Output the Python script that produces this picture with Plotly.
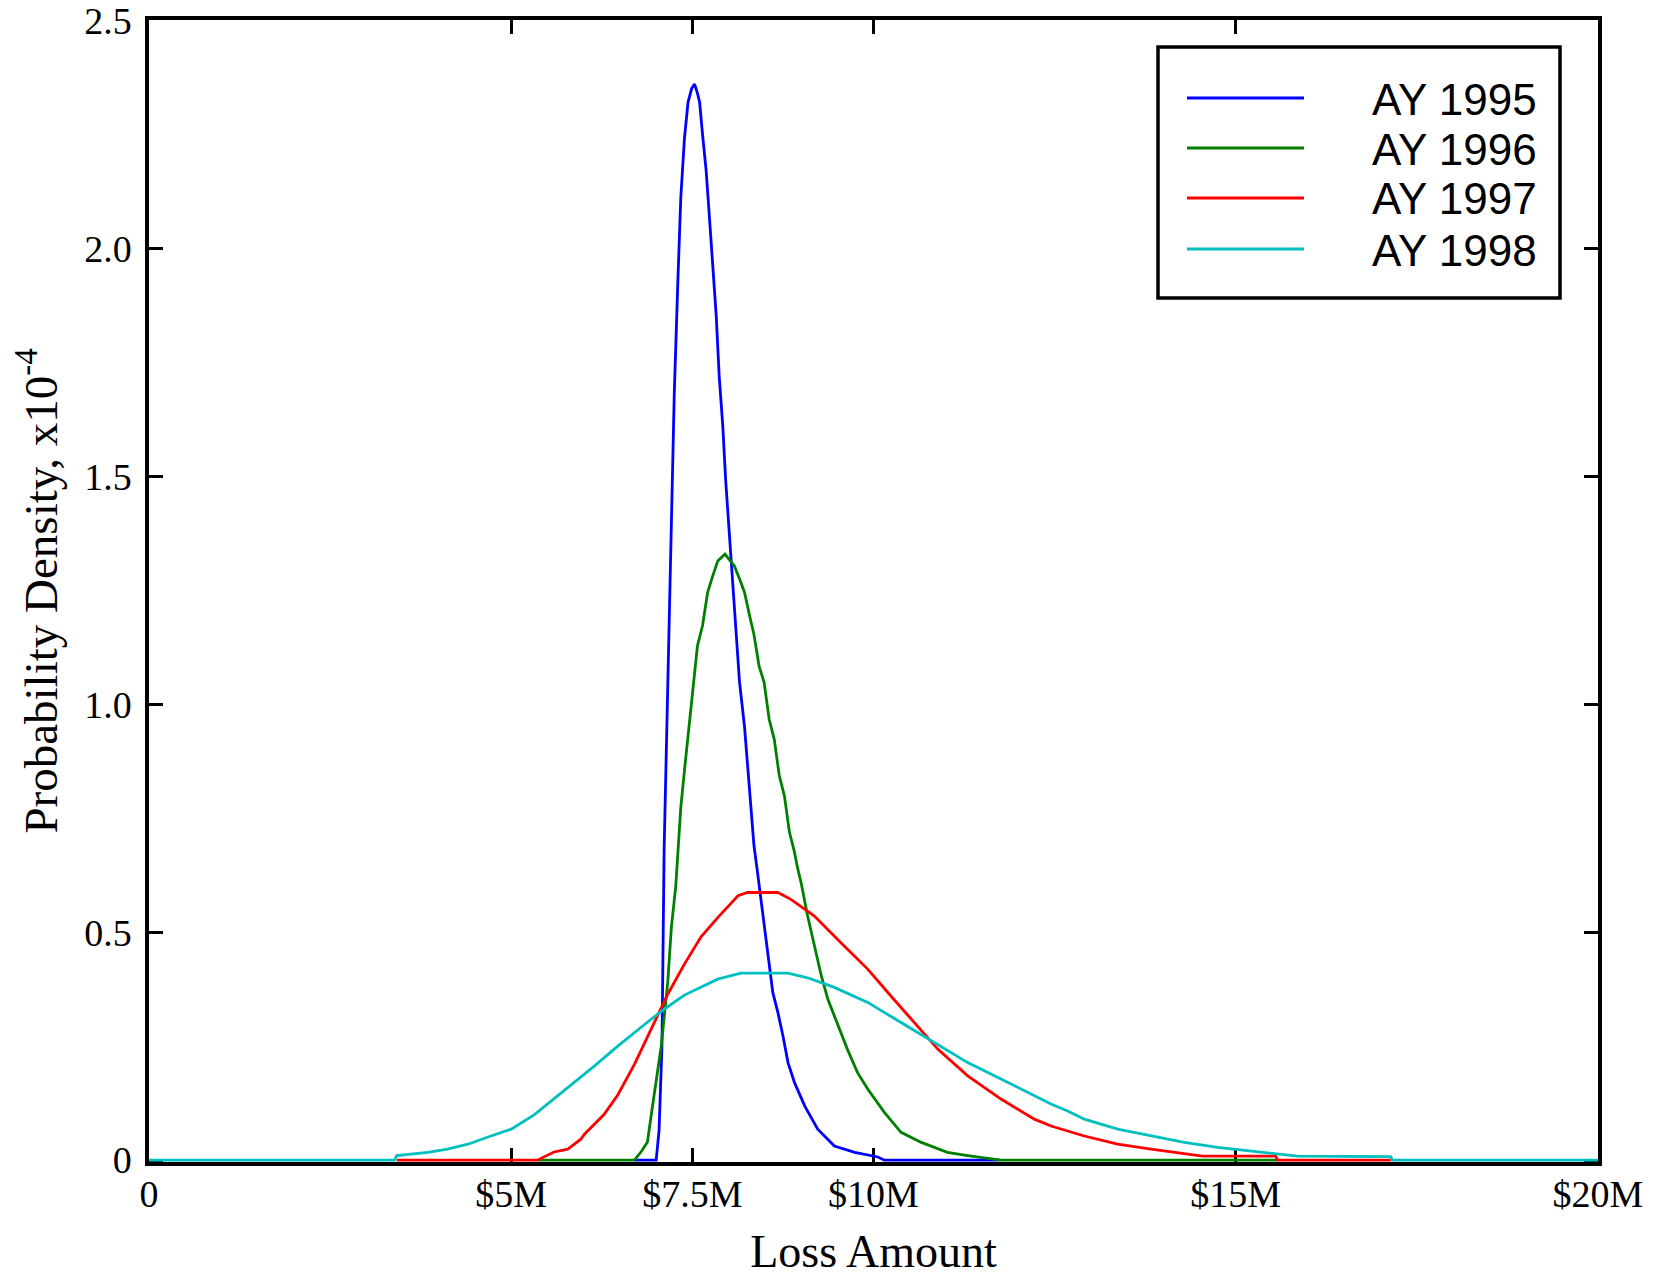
import plotly.graph_objects as go

# Loss amount in $ millions, probability density in units of 1e-4
names = ["AY 1995", "AY 1996", "AY 1997", "AY 1998"]
colors = ["#0000FF", "#008000", "#FF0000", "#00BFBF"]

x_1995 = [6.70, 7.00, 7.04, 7.08, 7.11, 7.16, 7.21, 7.25, 7.30, 7.34, 7.39, 7.44, 7.49, 7.53,
          7.57, 7.60, 7.64, 7.69, 7.73, 7.78, 7.83, 7.87, 7.92, 7.96, 8.01, 8.06, 8.10, 8.15,
          8.22, 8.26, 8.31, 8.35, 8.40, 8.49, 8.54, 8.61, 8.68, 8.75, 8.82, 8.91, 9.05, 9.23,
          9.46, 9.74, 10.06, 10.15, 11.73]
y_1995 = [0.0, 0.0, 0.065, 0.25, 0.68, 1.05, 1.38, 1.68, 1.93, 2.11, 2.24, 2.32, 2.35, 2.36,
          2.34, 2.32, 2.25, 2.17, 2.08, 1.965, 1.85, 1.72, 1.61, 1.49, 1.37, 1.26, 1.15, 1.05,
          0.95, 0.865, 0.78, 0.69, 0.63, 0.514, 0.455, 0.368, 0.324, 0.273, 0.214, 0.17, 0.119, 0.068,
          0.031, 0.017, 0.007, 0.0, 0.0]

x_1996 = [5.36, 6.70, 6.80, 6.88, 6.93, 7.00, 7.07, 7.16, 7.21, 7.27, 7.30, 7.34, 7.39, 7.44,
          7.48, 7.53, 7.57, 7.64, 7.71, 7.78, 7.85, 7.95, 8.08, 8.17, 8.22, 8.29, 8.35, 8.42,
          8.49, 8.56, 8.63, 8.70, 8.77, 8.84, 8.91, 8.95, 9.00, 9.09, 9.18, 9.28, 9.37, 9.51,
          9.64, 9.78, 9.92, 10.15, 10.38, 10.66, 11.02, 11.30, 11.76, 15.58]
y_1996 = [0.0, 0.0, 0.02, 0.04, 0.097, 0.17, 0.25, 0.39, 0.51, 0.60, 0.686, 0.773, 0.854, 0.927,
          1.0, 1.066, 1.128, 1.172, 1.245, 1.281, 1.314, 1.329, 1.303, 1.267, 1.245, 1.194, 1.153, 1.084,
          1.048, 0.967, 0.923, 0.843, 0.799, 0.719, 0.675, 0.642, 0.609, 0.536, 0.47, 0.404, 0.353, 0.294,
          0.243, 0.192, 0.156, 0.105, 0.061, 0.039, 0.017, 0.01, 0.0, 0.0]

x_1997 = [3.42, 5.36, 5.59, 5.78, 5.96, 6.01, 6.28, 6.47, 6.70, 6.93, 7.16, 7.39, 7.62, 7.85,
          8.13, 8.26, 8.68, 8.86, 9.18, 9.55, 9.92, 10.24, 10.56, 10.89, 11.30, 11.76, 12.22, 12.45,
          12.91, 13.37, 13.83, 14.30, 14.54, 15.55, 15.58, 17.14]
y_1997 = [0.0, 0.0, 0.018, 0.024, 0.046, 0.057, 0.10, 0.143, 0.21, 0.287, 0.364, 0.43, 0.49, 0.532,
          0.58, 0.587, 0.587, 0.572, 0.536, 0.477, 0.419, 0.36, 0.302, 0.243, 0.185, 0.134, 0.09, 0.075,
          0.053, 0.035, 0.024, 0.014, 0.009, 0.009, 0.0, 0.0]

x_1998 = [0.0, 3.39, 3.42, 3.85, 4.12, 4.40, 4.72, 5.00, 5.32, 5.64, 5.87, 6.15, 6.47, 6.75,
          6.93, 7.11, 7.39, 7.85, 8.17, 8.82, 9.09, 9.46, 9.92, 10.38, 10.84, 11.30, 11.76, 12.22,
          12.45, 12.68, 12.91, 13.37, 13.83, 14.29, 14.75, 15.21, 15.85, 17.14, 17.16, 20.0]
y_1998 = [0.0, 0.0, 0.01, 0.017, 0.024, 0.035, 0.053, 0.068, 0.10, 0.141, 0.17, 0.207, 0.25, 0.287,
          0.309, 0.331, 0.362, 0.397, 0.41, 0.41, 0.40, 0.379, 0.346, 0.302, 0.258, 0.214, 0.178, 0.141,
          0.123, 0.108, 0.09, 0.068, 0.053, 0.039, 0.028, 0.02, 0.009, 0.008, 0.0, 0.0]

series_x = [x_1995, x_1996, x_1997, x_1998]
series_y = [y_1995, y_1996, y_1997, y_1998]

x_tickvals = [0, 5, 7.5, 10, 15, 20]
x_ticktext = ["0", "$5M", "$7.5M", "$10M", "$15M", "$20M"]
y_tickvals = [0, 0.5, 1.0, 1.5, 2.0, 2.5]
y_ticktext = ["0", "0.5", "1.0", "1.5", "2.0", "2.5"]

# page body has an 8px margin: figure is placed at (8, 8)
OFF = 8
W, H = 1653, 1269
ML, MR, MT, MB = 141, 63, 12, 115

fig = go.Figure()
for nm, col, xs, ys in zip(names, colors, series_x, series_y):
    fig.add_trace(go.Scatter(x=xs, y=ys, mode="lines", name=nm,
                             line=dict(color=col, width=2.8), showlegend=False))

serif = "Liberation Serif, Times New Roman, serif"
axis_common = dict(showgrid=False, zeroline=False, showline=True, linecolor="black",
                   linewidth=3.5, mirror="allticks", ticks="inside", ticklen=14,
                   tickwidth=2.5, tickcolor="black", layer="below traces",
                   ticklabeloverflow="allow",
                   tickfont=dict(family=serif, size=38, color="black"))

fig.update_xaxes(range=[0, 20], tickmode="array", tickvals=x_tickvals, ticktext=x_ticktext,
                 ticklabelstandoff=-4,
                 title=dict(text="Loss Amount", font=dict(family=serif, size=46, color="black"),
                            standoff=36),
                 **axis_common)
fig.update_yaxes(range=[-0.004, 2.5005], tickmode="array", tickvals=y_tickvals, ticktext=y_ticktext,
                 ticklabelstandoff=6,
                 title=dict(text="Probability Density, x10<sup>-4</sup>",
                            font=dict(family=serif, size=47, color="black"), standoff=14),
                 **axis_common)

# Legend drawn in paper coordinates (box, line samples, labels); positions in page pixels
pw = W - ML - MR
ph = H - MT - MB
def px(X):
    return (X - OFF - ML) / pw
def py(Y):
    return (H - MB - (Y - OFF)) / ph

shapes = [dict(type="rect", xref="paper", yref="paper",
               x0=px(1158), x1=px(1560), y0=py(298), y1=py(47),
               line=dict(color="black", width=3.5), fillcolor="white", layer="above")]
annotations = []
row_y = [98, 148, 198, 249]
for nm, col, ry in zip(names, colors, row_y):
    shapes.append(dict(type="line", xref="paper", yref="paper",
                       x0=px(1187), x1=px(1304), y0=py(ry), y1=py(ry),
                       line=dict(color=col, width=2.8), layer="above"))
    annotations.append(dict(xref="paper", yref="paper", x=px(1370), y=py(ry + 1),
                            xanchor="left", yanchor="middle", showarrow=False, text=nm,
                            font=dict(family="Liberation Sans, Arial, sans-serif", size=44,
                                      color="black")))

fig.update_layout(width=W, height=H, autosize=False,
                  margin=dict(l=ML, r=MR, t=MT, b=MB, autoexpand=False),
                  paper_bgcolor="white", plot_bgcolor="white",
                  shapes=shapes, annotations=annotations, showlegend=False)

fig.write_html("out.html")
